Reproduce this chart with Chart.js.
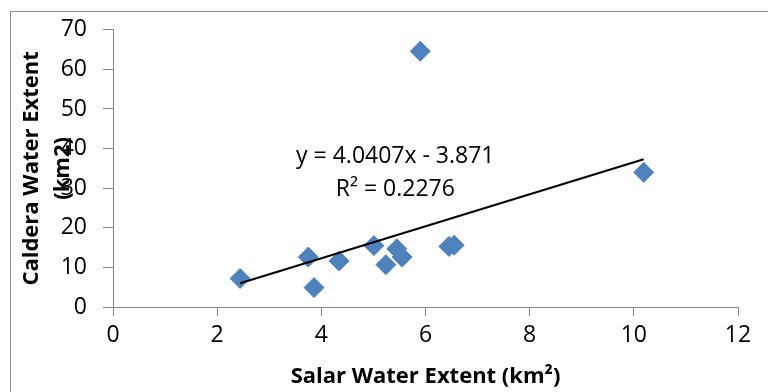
<!DOCTYPE html>
<html>
<head>
<meta charset="utf-8">
<script src="https://cdn.jsdelivr.net/npm/chart.js@4"></script>
<style>
  html, body { margin: 0; padding: 0; background: #fff; }
  canvas { display: block; }
</style>
</head>
<body>
<canvas id="chart" width="768" height="392"></canvas>
<script>
// values
const salarExtent   = [2.44, 3.75, 3.86, 4.34, 5.01, 5.24, 5.45, 5.55, 6.45, 6.55, 10.19, 5.90];
const calderaExtent = [7.2, 12.6, 4.9, 11.6, 15.5, 10.7, 14.7, 12.6, 15.3, 15.6, 34.0, 64.6];
const xTicks = [0, 2, 4, 6, 8, 10, 12];
const yTicks = [0, 10, 20, 30, 40, 50, 60, 70];
const slope = 4.0407;
const intercept = -3.871;
const rSquared = 0.2276;

const points = salarExtent.map((x, i) => ({ x: x, y: calderaExtent[i] }));
const xMin = Math.min(...salarExtent);
const xMax = Math.max(...salarExtent);
const trend = [xMin, xMax].map(x => ({ x: x, y: slope * x + intercept }));

const axisGray = '#868686';
const font = "'Open Sans', 'Liberation Sans', sans-serif";

// outer chart frame + trendline equation label
const extras = {
  id: 'extras',
  beforeDraw(chart) {
    const ctx = chart.ctx;
    ctx.save();
    ctx.strokeStyle = '#8c8c8c';
    ctx.lineWidth = 1;
    ctx.strokeRect(10.5, 11.5, 900, 500);
    ctx.restore();
  },
  afterDatasetsDraw(chart) {
    const ctx = chart.ctx;
    const xs = chart.scales.x, ys = chart.scales.y;
    const cx = xs.getPixelForValue(5.42);
    ctx.save();
    ctx.fillStyle = '#000';
    ctx.font = '23px ' + font;
    ctx.textAlign = 'center';
    ctx.textBaseline = 'middle';
    ctx.fillText('y = ' + slope + 'x - ' + Math.abs(intercept), cx, ys.getPixelForValue(38.0));
    ctx.fillText('R\u00B2 = ' + rSquared, cx, ys.getPixelForValue(29.8));
    ctx.restore();
  }
};

new Chart(document.getElementById('chart'), {
  type: 'scatter',
  data: {
    datasets: [
      {
        label: 'Caldera vs Salar',
        data: points,
        pointStyle: 'rectRot',
        pointRadius: 10,
        pointHoverRadius: 10,
        backgroundColor: '#4F81BD',
        borderColor: '#4F81BD',
        borderWidth: 1,
        order: 2
      },
      {
        type: 'line',
        label: 'Linear trend',
        data: trend,
        borderColor: '#000',
        borderWidth: 2,
        pointRadius: 0,
        fill: false,
        order: 1
      }
    ]
  },
  options: {
    responsive: false,
    animation: false,
    devicePixelRatio: 1,
    layout: { padding: { left: 0, top: 28, right: 30, bottom: 0 } },
    plugins: {
      legend: { display: false },
      tooltip: { enabled: false }
    },
    scales: {
      x: {
        type: 'linear',
        min: 0,
        max: 12,
        afterBuildTicks: axis => { axis.ticks = xTicks.map(v => ({ value: v })); },
        afterFit: axis => { axis.height = 85; },
        grid: { drawOnChartArea: false, drawTicks: true, tickLength: 9, color: axisGray },
        border: { color: axisGray, width: 1 },
        ticks: { color: '#000', padding: 6, font: { family: font, size: 23 } },
        title: {
          display: true,
          text: 'Salar Water Extent (km\u00B2)',
          color: '#000',
          font: { family: font, size: 22, weight: 'bold', lineHeight: 1.2 },
          padding: { top: 0, bottom: 2 }
        }
      },
      y: {
        type: 'linear',
        min: 0,
        max: 70,
        afterBuildTicks: axis => { axis.ticks = yTicks.map(v => ({ value: v })); },
        afterFit: axis => { axis.width = 113; },
        grid: { drawOnChartArea: false, drawTicks: true, tickLength: 10, color: axisGray },
        border: { color: axisGray, width: 1 },
        ticks: { color: '#000', padding: 16, font: { family: font, size: 23 } },
        title: {
          display: true,
          text: ['Caldera Water Extent', '(km2)'],
          color: '#000',
          font: { family: font, size: 22, weight: 'bold', lineHeight: 1.41 },
          padding: { top: 16, bottom: 0 }
        }
      }
    }
  },
  plugins: [extras]
});
</script>
</body>
</html>
